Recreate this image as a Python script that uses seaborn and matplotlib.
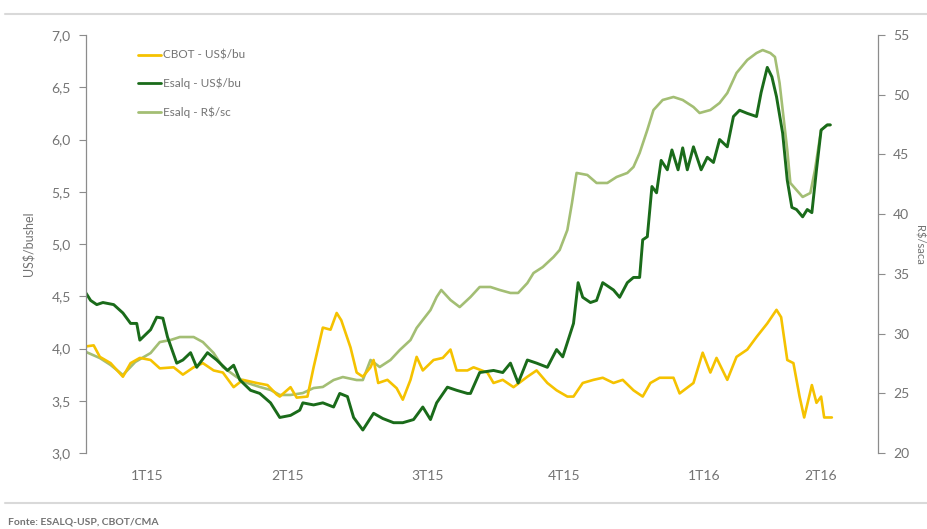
import numpy as np
import pandas as pd
import matplotlib
matplotlib.use("Agg")
import matplotlib.pyplot as plt
import seaborn as sns
from matplotlib.lines import Line2D

sns.set_style("white")
plt.rcParams['font.family'] = ['Lato', 'DejaVu Sans']

# ---- data (days since start of Jan 2015) ----
cbot_days = [0, 5, 9, 16, 24, 29, 35, 42, 48, 57, 63, 70, 76, 83, 89, 96, 102, 111, 118, 124,
             126, 133, 137, 144, 148, 154, 159, 163, 166, 172, 176, 180, 185, 187, 190, 196, 202,
             206, 211, 215, 219, 226, 232, 237, 241, 248, 252, 261, 265, 271, 278, 287, 293, 300,
             306, 313, 317, 323, 330, 336, 343, 349, 356, 362, 367, 373, 382, 386, 395, 401, 406,
             410, 417, 423, 430, 436, 443, 449, 452, 456, 460, 464, 467, 472, 475, 478, 480, 485]
cbot_usd = [4.02, 4.03, 3.92, 3.86, 3.73, 3.86, 3.91, 3.89, 3.81, 3.82, 3.75, 3.82, 3.86, 3.79,
            3.77, 3.63, 3.70, 3.67, 3.65, 3.56, 3.54, 3.63, 3.53, 3.54, 3.82, 4.20, 4.18, 4.34,
            4.27, 4.01, 3.77, 3.73, 3.82, 3.89, 3.67, 3.70, 3.62, 3.51, 3.70, 3.92, 3.79, 3.89,
            3.91, 3.99, 3.79, 3.79, 3.82, 3.77, 3.67, 3.70, 3.63, 3.73, 3.79, 3.67, 3.60, 3.54,
            3.54, 3.67, 3.70, 3.72, 3.67, 3.70, 3.60, 3.54, 3.67, 3.72, 3.72, 3.57, 3.67, 3.96,
            3.77, 3.91, 3.70, 3.92, 3.99, 4.11, 4.24, 4.37, 4.30, 3.89, 3.86, 3.54, 3.34, 3.65,
            3.48, 3.54, 3.34, 3.34]

esalq_days = [0, 3, 7, 11, 18, 24, 29, 33, 35, 42, 46, 50, 53, 59, 63, 68, 72, 79, 85, 92, 96,
              100, 107, 113, 120, 126, 133, 139, 141, 148, 154, 161, 165, 170, 174, 180, 187,
              193, 200, 206, 213, 219, 224, 228, 235, 241, 248, 250, 256, 265, 271, 276, 281,
              287, 293, 300, 306, 310, 317, 320, 323, 328, 332, 336, 343, 347, 352, 356, 360,
              362, 365, 368, 371, 374, 378, 381, 385, 388, 391, 395, 400, 404, 408, 412, 417,
              421, 425, 430, 436, 439, 443, 446, 449, 453, 456, 459, 462, 466, 469, 472, 475,
              478, 482, 484]
esalq_usd = [4.53, 4.46, 4.42, 4.44, 4.42, 4.34, 4.24, 4.24, 4.08, 4.18, 4.30, 4.29, 4.11, 3.86,
             3.89, 3.96, 3.82, 3.96, 3.89, 3.79, 3.84, 3.70, 3.60, 3.57, 3.48, 3.34, 3.36, 3.41,
             3.48, 3.46, 3.48, 3.44, 3.57, 3.54, 3.34, 3.22, 3.38, 3.33, 3.29, 3.29, 3.32, 3.44,
             3.32, 3.48, 3.63, 3.60, 3.57, 3.57, 3.77, 3.79, 3.77, 3.86, 3.67, 3.89, 3.86, 3.82,
             3.99, 3.92, 4.24, 4.63, 4.49, 4.44, 4.46, 4.63, 4.56, 4.49, 4.63, 4.68, 4.68, 5.04,
             5.07, 5.55, 5.49, 5.80, 5.71, 5.90, 5.71, 5.92, 5.71, 5.93, 5.71, 5.83, 5.78, 6.00,
             5.93, 6.22, 6.28, 6.25, 6.22, 6.45, 6.69, 6.60, 6.41, 6.06, 5.61, 5.35, 5.33, 5.26,
             5.33, 5.30, 5.71, 6.09, 6.14, 6.14]

brl_days = [0, 9, 16, 24, 32, 42, 48, 55, 61, 70, 76, 83, 89, 98, 105, 113, 120, 126, 133, 141,
            148, 154, 161, 167, 176, 180, 185, 191, 198, 204, 211, 215, 219, 224, 228, 231, 237,
            243, 250, 256, 263, 269, 276, 281, 287, 291, 297, 304, 308, 313, 316, 319, 326, 332,
            339, 345, 352, 356, 360, 365, 369, 375, 382, 388, 395, 399, 406, 412, 417, 423, 430,
            436, 440, 445, 448, 451, 456, 458, 462, 466, 471, 474, 478, 482, 484]
esalq_brl = [28.46, 27.95, 27.37, 26.53, 27.62, 28.37, 29.29, 29.46, 29.71, 29.71, 29.29, 28.37,
             27.20, 26.36, 25.86, 25.53, 25.28, 24.86, 24.86, 25.02, 25.44, 25.53, 26.11, 26.36,
             26.11, 26.11, 27.79, 27.20, 27.79, 28.62, 29.46, 30.47, 31.14, 31.97, 33.06, 33.65,
             32.81, 32.22, 33.06, 33.90, 33.90, 33.65, 33.40, 33.40, 34.23, 35.07, 35.57, 36.41,
             37.00, 38.67, 40.93, 43.45, 43.28, 42.61, 42.61, 43.11, 43.45, 43.95, 45.12, 47.05,
             48.72, 49.56, 49.81, 49.56, 48.97, 48.47, 48.72, 49.31, 50.14, 51.82, 52.91, 53.49,
             53.74, 53.49, 53.16, 50.98, 45.37, 42.61, 42.02, 41.44, 41.77, 43.70, 47.05, 47.46,
             47.46]

quarter_labels = ["1T15", "2T15", "3T15", "4T15", "1T16", "2T16"]
quarter_pos = [40, 131, 222, 311, 402, 478]

names = ["CBOT - US$/bu", "Esalq - US$/bu", "Esalq - R$/sc"]
colors = ["#F5C200", "#1A6B1A", "#A3BE74"]

df_cbot = pd.DataFrame({"dia": cbot_days, "valor": cbot_usd})
df_esalq = pd.DataFrame({"dia": esalq_days, "valor": esalq_usd})
df_brl = pd.DataFrame({"dia": brl_days, "valor": esalq_brl})

fig = plt.figure(figsize=(9.28, 5.29), dpi=100)
ax = fig.add_axes([86/928, 1-453/529, (878-86)/928, (453-35)/529])
ax2 = ax.twinx()

sns.lineplot(data=df_brl, x="dia", y="valor", ax=ax2, color=colors[2], linewidth=1.9)
sns.lineplot(data=df_cbot, x="dia", y="valor", ax=ax, color=colors[0], linewidth=1.9)
sns.lineplot(data=df_esalq, x="dia", y="valor", ax=ax, color=colors[1], linewidth=2.1)

ax.set_zorder(ax2.get_zorder() + 1)
ax.patch.set_visible(False)

grey = "#8C8C8C"
txt = "#737373"

ax.set_xlim(0, 515)
ax.set_ylim(3.0, 7.0)
ax2.set_ylim(20, 55)

ax.set_yticks(np.arange(3.0, 7.01, 0.5))
ax.set_yticklabels([f"{v:.1f}".replace(".", ",") for v in np.arange(3.0, 7.01, 0.5)])
ax2.set_yticks(np.arange(20, 56, 5))

ax.set_xticks(quarter_pos)
ax.set_xticklabels(quarter_labels)
ax.tick_params(axis="x", length=0, pad=12, labelsize=10, colors=txt)
ax.tick_params(axis="y", length=5, width=0.8, color=grey, labelsize=10, labelcolor=txt, pad=6, left=True)
ax2.tick_params(axis="y", length=5, width=0.8, color=grey, labelsize=10, labelcolor=txt, pad=6, right=True)

for a in (ax, ax2):
    for s in ["top", "bottom"]:
        a.spines[s].set_visible(False)
ax.spines["right"].set_visible(False)
ax2.spines["left"].set_visible(False)
ax.spines["left"].set_color(grey)
ax2.spines["right"].set_color(grey)
ax.spines["left"].set_linewidth(0.9)
ax2.spines["right"].set_linewidth(0.9)

ax.set_xlabel("")
ax2.set_xlabel("")
ax.set_ylabel("US$/bushel", fontsize=9, color=txt, labelpad=12)
ax2.set_ylabel("")
fig.text(919/928, 1-245/529, "R$/saca", rotation=-90, fontsize=8, color=txt, ha="center", va="center")

handles = [Line2D([], [], color=c, linewidth=2) for c in colors]
ax.legend(handles, names, loc="upper left", bbox_to_anchor=(0.052, 0.99), frameon=False,
          fontsize=8.5, labelcolor=txt, handlelength=2.0, handletextpad=0.1, labelspacing=1.45)

# decorative frame lines
fig.add_artist(Line2D([5/928, 1], [1-14/529, 1-14/529], color="#D9D9D9", linewidth=1.5))
fig.add_artist(Line2D([5/928, 1], [1-503/529, 1-503/529], color="#D9D9D9", linewidth=1.5))
fig.text(8/928, 1-522/529, "Fonte: ESALQ-USP, CBOT/CMA", fontsize=7.5, color=txt,
         fontweight="bold", va="center", ha="left")

fig.savefig("out.png", dpi=100)
